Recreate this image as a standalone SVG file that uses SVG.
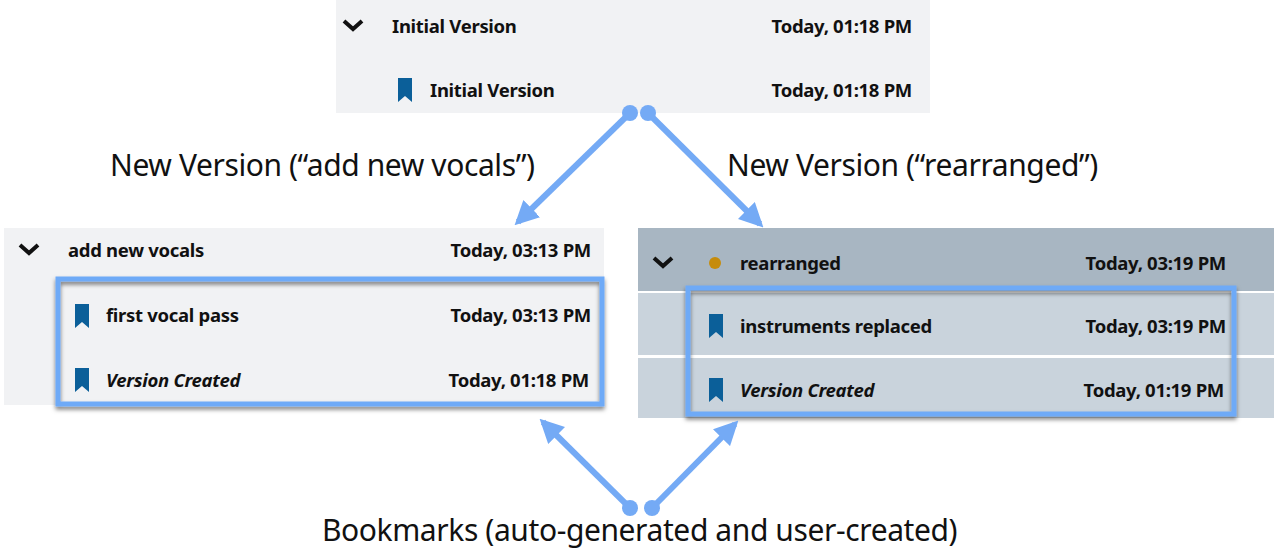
<svg xmlns="http://www.w3.org/2000/svg" width="1274" height="560" viewBox="0 0 1274 560">
<style>
text{font-family:"Noto Sans","Open Sans",sans-serif;fill:#111}
.r{font-size:18.5px;font-weight:bold;letter-spacing:-0.3px}
.i{font-style:italic}
.d{text-anchor:end}
.lab{font-size:30px;letter-spacing:-0.4px}
.bm{fill:#0b5f99}
.chev{fill:none;stroke:#111;stroke-width:4}
.box{fill:none;stroke:#6eaaf7;stroke-width:5}
.arr{stroke:#74aaf5;stroke-width:6;fill:none}
.dot{fill:#74aaf5}
</style>
<defs>
<marker id="ah" viewBox="0 0 10 10" refX="8" refY="5" markerWidth="4" markerHeight="4" orient="auto"><path d="M0,0 L10,5 L0,10 z" fill="#74aaf5"/></marker>
<path id="bmk" d="M-7,-12 h14 v24 l-7,-6 l-7,6 z"/>
<filter id="sh" x="-5%" y="-10%" width="110%" height="125%"><feDropShadow dx="0" dy="3" stdDeviation="2" flood-opacity="0.5"/></filter>
</defs>
<g id="top">
<rect x="336" y="0" width="594" height="113" fill="#f1f2f4"/>
<path class="chev" d="M344,21 l9,8 l9,-8"/>
<text class="r" x="392" y="33">Initial Version</text>
<text class="r d" x="912" y="33">Today, 01:18 PM</text>
<use href="#bmk" class="bm" x="405" y="90"/>
<text class="r" x="430" y="97">Initial Version</text>
<text class="r d" x="912" y="97">Today, 01:18 PM</text>
</g>
<g id="left">
<rect x="4" y="228" width="600" height="177" fill="#f1f2f4"/>
<path class="chev" d="M20,245 l9,8 l9,-8"/>
<text class="r" x="68" y="257">add new vocals</text>
<text class="r d" x="591" y="257">Today, 03:13 PM</text>
<g filter="url(#sh)"><rect class="box" x="58" y="279" width="544" height="125"/></g>
<use href="#bmk" class="bm" x="82" y="316"/>
<text class="r" x="106" y="322">first vocal pass</text>
<text class="r d" x="591" y="322">Today, 03:13 PM</text>
<use href="#bmk" class="bm" x="82" y="380"/>
<text class="r i" x="106" y="387">Version Created</text>
<text class="r d" x="589" y="387">Today, 01:18 PM</text>
</g>
<g id="right">
<rect x="638" y="228" width="636" height="63" fill="#a8b6c2"/>
<rect x="638" y="293" width="636" height="62" fill="#c9d3dc"/>
<rect x="638" y="358" width="636" height="60" fill="#c9d3dc"/>
<path class="chev" d="M654,258 l9,8 l9,-8"/>
<circle cx="715" cy="263" r="6" fill="#c68c0b"/>
<text class="r" x="740" y="270">rearranged</text>
<text class="r d" x="1226" y="270">Today, 03:19 PM</text>
<g filter="url(#sh)"><rect class="box" x="688" y="288" width="546" height="126"/></g>
<use href="#bmk" class="bm" x="716" y="326"/>
<text class="r" x="740" y="333">instruments replaced</text>
<text class="r d" x="1226" y="333">Today, 03:19 PM</text>
<use href="#bmk" class="bm" x="716" y="390"/>
<text class="r i" x="740" y="397">Version Created</text>
<text class="r d" x="1224" y="397">Today, 01:19 PM</text>
</g>
<g id="connectors">
<line class="arr" x1="630" y1="113" x2="518" y2="222" marker-end="url(#ah)"/>
<line class="arr" x1="648" y1="113" x2="760" y2="224" marker-end="url(#ah)"/>
<line class="arr" x1="630" y1="508" x2="543" y2="422" marker-end="url(#ah)"/>
<line class="arr" x1="652" y1="508" x2="735" y2="424" marker-end="url(#ah)"/>
<circle class="dot" cx="630" cy="113" r="8"/>
<circle class="dot" cx="648" cy="113" r="8"/>
<circle class="dot" cx="630" cy="508" r="8"/>
<circle class="dot" cx="652" cy="508" r="8"/>
</g>
<text class="lab" x="110" y="176">New Version (“add new vocals”)</text>
<text class="lab" x="727" y="176">New Version (“rearranged”)</text>
<text class="lab" x="322" y="541">Bookmarks (auto-generated and user-created)</text>
</svg>
